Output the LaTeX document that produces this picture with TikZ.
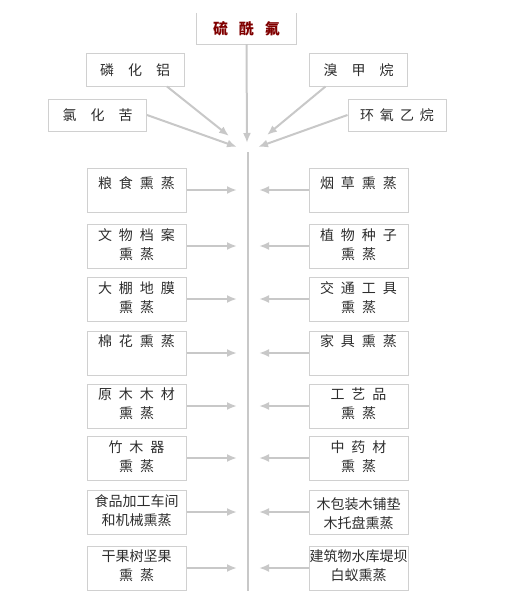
\documentclass[tikz,border=0pt]{standalone}
\usepackage{fontspec}
\newfontfamily\cjk{Noto Sans CJK SC}
\usetikzlibrary{arrows.meta}

\definecolor{boxline}{RGB}{208,208,208}
\definecolor{arrowline}{RGB}{200,200,200}
\definecolor{txtgray}{RGB}{45,45,45}
\definecolor{titlered}{RGB}{128,0,0}

% wider gaps between spaced characters
\newcommand{\spaced}[2]{{\spaceskip=#1\relax #2}}
% text of a column box, top aligned (optional top gap)
\newcommand{\coltext}[2][5pt]{\parbox[c][44pt][t]{99pt}{\centering\spaceskip=7pt\relax\vspace*{#1}#2}}

\tikzset{
  gasbox/.style={draw=boxline, line width=1pt, minimum width=98pt, minimum height=32pt,
    inner sep=0pt, text=txtgray, font=\cjk\fontsize{14}{18}\selectfont},
  usebox/.style={draw=boxline, line width=1pt, inner sep=0pt, text=txtgray,
    font=\cjk\fontsize{14}{18.5}\selectfont},
  flow/.style={draw=arrowline, line width=2pt, -{Latex[length=10pt,width=8pt]}},
}

\begin{document}
\begin{tikzpicture}[x=1pt,y=-1pt]
  \useasboundingbox (0,0) rectangle (507,610);

  % Title box, open at the top
  \node[minimum width=99pt, minimum height=31pt, inner sep=0pt, text=titlered,
    font=\cjk\bfseries\fontsize{15}{18}\selectfont] (sulfuryl) at (246.5,28.5) {\spaced{11pt}{硫 酰 氟}};
  \draw[boxline, line width=1pt] (sulfuryl.north west) -- (sulfuryl.south west)
    -- (sulfuryl.south east) -- (sulfuryl.north east);

  % Other fumigants
  \node[gasbox] (phosphide) at (135,70) {\spaced{14pt}{磷 化 铝}};
  \node[gasbox] (chloropicrin) at (97.5,115) {\spaced{14pt}{氯 化 苦}};
  \node[gasbox] (bromide) at (358.5,70) {\spaced{14pt}{溴 甲 烷}};
  \node[gasbox] (oxide) at (397,115) {\spaced{6pt}{环 氧 乙 烷}};

  % Arrow ends above the main line
  \coordinate (hub) at (247,143);
  \coordinate (tipa) at (229,136);
  \coordinate (tipb) at (237,147);
  \coordinate (tipc) at (267,135);
  \coordinate (tipd) at (258,147);

  \draw[flow] (sulfuryl.south) -- (hub);
  \draw[flow] ([xshift=32pt]phosphide.south) -- (tipa);
  \draw[flow] (chloropicrin.east) -- (tipb);
  \draw[flow] ([xshift=-33pt]bromide.south) -- (tipc);
  \draw[flow] (oxide.west) -- (tipd);

  % Main line
  \coordinate (vtop) at (248,152);
  \coordinate (vbot) at (248,591);
  \draw[arrowline, line width=2pt] (vtop) -- (vbot);

  % Left column
  \node[usebox] (l1) at (136.5,190) {\coltext[9pt]{粮 食 熏 蒸}};
  \node[usebox] (l2) at (136.5,246) {\coltext{文 物 档 案\\熏 蒸}};
  \node[usebox] (l3) at (136.5,299) {\coltext{大 棚 地 膜\\熏 蒸}};
  \node[usebox] (l4) at (136.5,353) {\coltext[4pt]{棉 花 熏 蒸}};
  \node[usebox] (l5) at (136.5,406) {\coltext[4pt]{原 木 木 材\\熏 蒸}};
  \node[usebox] (l6) at (136.5,458) {\coltext{竹 木 器\\熏 蒸}};
  \node[usebox] (l7) at (136.5,512) {\coltext{食品加工车间\\和机械熏蒸}};
  \node[usebox] (l8) at (136.5,568) {\coltext[4pt]{干果树坚果\\熏 蒸}};

  % Right column
  \node[usebox] (r1) at (358.5,190) {\coltext[9pt]{烟 草 熏 蒸}};
  \node[usebox] (r2) at (358.5,246) {\coltext{植 物 种 子\\熏 蒸}};
  \node[usebox] (r3) at (358.5,299) {\coltext{交 通 工 具\\熏 蒸}};
  \node[usebox] (r4) at (358.5,353) {\coltext[4pt]{家 具 熏 蒸}};
  \node[usebox] (r5) at (358.5,406) {\coltext[4pt]{工 艺 品\\熏 蒸}};
  \node[usebox] (r6) at (358.5,458) {\coltext{中 药 材\\熏 蒸}};
  \node[usebox] (r7) at (358.5,512) {\coltext[8pt]{木包装木铺垫\\木托盘熏蒸}};
  \node[usebox] (r8) at (358.5,568) {\coltext[4pt]{建筑物水库堤坝\\白蚁熏蒸}};

  % Arrows towards the main line
  \foreach \i in {1,...,8} {
    \coordinate (la\i) at (237,0 |- l\i.east);
    \coordinate (ra\i) at (259,0 |- r\i.west);
    \draw[flow] (l\i.east) -- (la\i);
    \draw[flow] (r\i.west) -- (ra\i);
  }
\end{tikzpicture}
\end{document}
